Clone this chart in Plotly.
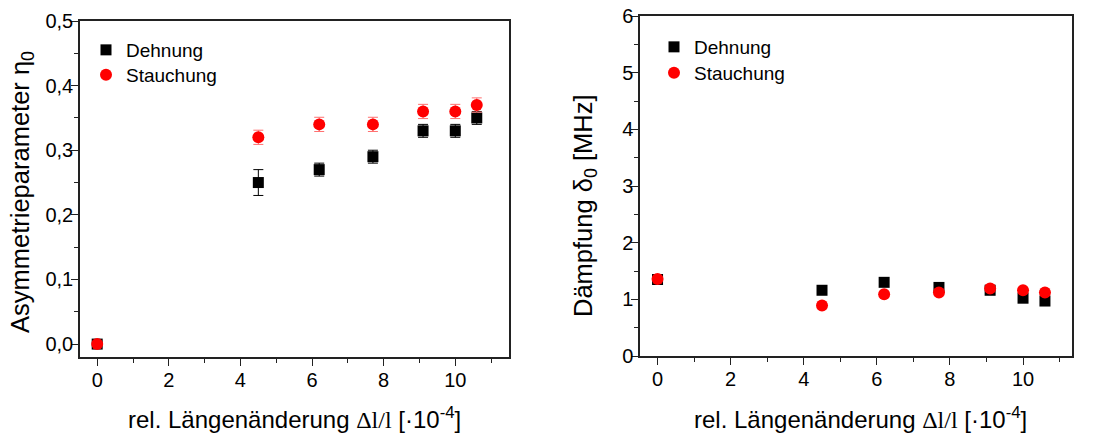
import plotly.graph_objects as go

# ---- data ----
x_dehnung = [0, 4.5, 6.2, 7.7, 9.1, 10.0, 10.6]
x_stauchung = [0, 4.5, 6.2, 7.7, 9.1, 10.0, 10.6]

eta_dehnung = [0.0, 0.25, 0.27, 0.29, 0.33, 0.33, 0.35]
eta_dehnung_err = [0.0, 0.02, 0.01, 0.01, 0.01, 0.01, 0.01]
eta_stauchung = [0.0, 0.32, 0.34, 0.34, 0.36, 0.36, 0.37]
eta_stauchung_err = [0.0, 0.011, 0.011, 0.011, 0.011, 0.011, 0.011]

delta_dehnung = [1.35, 1.16, 1.30, 1.21, 1.16, 1.02, 0.97]
delta_stauchung = [1.36, 0.89, 1.09, 1.12, 1.19, 1.16, 1.12]

x_ticks = [0, 2, 4, 6, 8, 10]

W, H = 1096, 436
FONT = "Liberation Sans, Arial, sans-serif"
AX = "#222222"

def px_x(p):
    return p / W

def px_y(p):
    return 1 - p / H

fig = go.Figure()

# left panel
fig.add_trace(go.Scatter(
    x=x_dehnung, y=eta_dehnung, mode="markers", name="Dehnung",
    marker=dict(symbol="square", size=11, color="black"),
    error_y=dict(type="data", array=eta_dehnung_err, color="black", thickness=1, width=5),
    xaxis="x", yaxis="y", legend="legend"))
fig.add_trace(go.Scatter(
    x=x_stauchung, y=eta_stauchung, mode="markers", name="Stauchung",
    marker=dict(symbol="circle", size=12, color="#ff0000"),
    error_y=dict(type="data", array=eta_stauchung_err, color="#ff7070", thickness=1, width=5),
    xaxis="x", yaxis="y", legend="legend2"))

# right panel
fig.add_trace(go.Scatter(
    x=x_dehnung, y=delta_dehnung, mode="markers", name="Dehnung",
    marker=dict(symbol="square", size=11, color="black"),
    xaxis="x2", yaxis="y2", legend="legend3"))
fig.add_trace(go.Scatter(
    x=x_stauchung, y=delta_stauchung, mode="markers", name="Stauchung",
    marker=dict(symbol="circle", size=12, color="#ff0000"),
    xaxis="x2", yaxis="y2", legend="legend4"))

tickfont = dict(family=FONT, size=20, color="black")

dom_x1 = [px_x(80), px_x(509)]
dom_y1 = [px_y(357), px_y(21)]
dom_x2 = [px_x(640), px_x(1072)]
dom_y2 = [px_y(356), px_y(16)]

xr1 = [-0.48, 11.5]
yr1 = [-0.02, 0.5]
xr2 = [-0.48, 11.34]
yr2 = [0, 6]

def xaxis(dom, rng, anchor):
    return dict(domain=dom, range=rng, anchor=anchor, tickvals=x_ticks,
                ticks="outside", ticklen=7, tickwidth=1.3, tickcolor=AX,
                minor=dict(ticks="outside", ticklen=4, dtick=1, tick0=0, tickcolor=AX, tickwidth=1.3),
                showline=True, linecolor=AX, linewidth=1.5, mirror=True, ticklabelstandoff=-3,
                showgrid=False, zeroline=False, tickfont=tickfont, automargin=False)

def yaxis(dom, rng, anchor, dtick, mdtick, fmt):
    return dict(domain=dom, range=rng, anchor=anchor, dtick=dtick, tick0=0, tickformat=fmt,
                ticks="outside", ticklen=7, tickwidth=1.3, tickcolor=AX,
                minor=dict(ticks="outside", ticklen=4, dtick=mdtick, tick0=0, tickcolor=AX, tickwidth=1.3),
                showline=True, linecolor=AX, linewidth=1.5, mirror=True, ticklabelstandoff=-6,
                showgrid=False, zeroline=False, tickfont=tickfont, automargin=False)

def xtop(over, rng, anchor):
    return dict(overlaying=over, side="top", anchor=anchor, range=rng, tickvals=x_ticks,
                ticks="inside", ticklen=4, tickwidth=1.3, tickcolor=AX,
                minor=dict(ticks="inside", ticklen=4, dtick=1, tick0=0, tickcolor=AX, tickwidth=1.3),
                showticklabels=False, showline=False, showgrid=False, zeroline=False)

def yright(over, rng, anchor, dtick, mdtick):
    return dict(overlaying=over, side="right", anchor=anchor, range=rng, dtick=dtick, tick0=0,
                ticks="inside", ticklen=4, tickwidth=1.3, tickcolor=AX,
                minor=dict(ticks="inside", ticklen=4, dtick=mdtick, tick0=0, tickcolor=AX, tickwidth=1.3),
                showticklabels=False, showline=False, showgrid=False, zeroline=False)

def leg(xp, yp):
    return dict(x=px_x(xp), y=px_y(yp), xanchor="left", yanchor="top",
                bgcolor="rgba(0,0,0,0)", font=dict(family=FONT, size=19),
                itemclick=False, itemdoubleclick=False)

fig.update_layout(
    width=W, height=H,
    margin=dict(l=0, r=0, t=0, b=0),
    paper_bgcolor="white", plot_bgcolor="white",
    separators=",.",
    font=dict(family=FONT, color="black"),
    xaxis=xaxis(dom_x1, xr1, "y"),
    yaxis=yaxis(dom_y1, yr1, "x", 0.1, 0.05, ".1f"),
    xaxis2=xaxis(dom_x2, xr2, "y2"),
    yaxis2=yaxis(dom_y2, yr2, "x2", 1, 0.5, "d"),
    xaxis3=xtop("x", xr1, "y"),
    yaxis3=yright("y", yr1, "x", 0.1, 0.05),
    xaxis4=xtop("x2", xr2, "y2"),
    yaxis4=yright("y2", yr2, "x2", 1, 0.5),
    legend=leg(86, 31),
    legend2=leg(86, 56),
    legend3=leg(654, 28),
    legend4=leg(654, 54),
    showlegend=True,
)

serif = '<span style="font-family:Liberation Serif, Times New Roman, serif">Δl/l</span>'
xtitle = "rel. Längenänderung " + serif + " [·10<sup>-4</sup>]"

TF = dict(family=FONT, size=24)
TFY = dict(family=FONT, size=25.5)
fig.add_annotation(text=xtitle, xref="paper", yref="paper", x=px_x(294), y=px_y(418),
                   showarrow=False, font=TF, xanchor="center", yanchor="middle")
fig.add_annotation(text=xtitle, xref="paper", yref="paper", x=px_x(860), y=px_y(418),
                   showarrow=False, font=TF, xanchor="center", yanchor="middle")
fig.add_annotation(text="Asymmetrieparameter η<sub>0</sub>", xref="paper", yref="paper",
                   x=px_x(22), y=px_y(192), textangle=-90, showarrow=False,
                   font=TFY, xanchor="center", yanchor="middle")
fig.add_annotation(text="Dämpfung δ<sub>0</sub> [MHz]", xref="paper", yref="paper",
                   x=px_x(585), y=px_y(205), textangle=-90, showarrow=False,
                   font=TFY, xanchor="center", yanchor="middle")

fig.write_html("out.html")
